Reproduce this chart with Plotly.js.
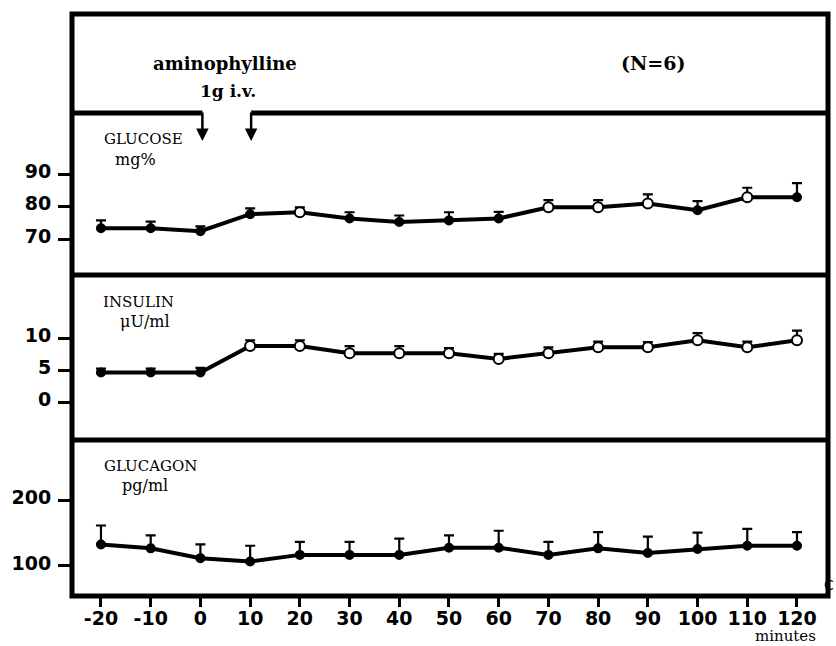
<!DOCTYPE html>
<html><head><meta charset="utf-8">
<script src="https://cdn.plot.ly/plotly-3.0.1.min.js"></script>
<style>html,body{margin:0;padding:0;background:#fff}</style>
</head><body><div id="chart" style="width:836px;height:646px"></div>
<script>
// ---- data ----
const minutes = [-20,-10,0,10,20,30,40,50,60,70,80,90,100,110,120];
const glucose = [73.4,73.4,72.5,77.7,78.3,76.4,75.3,75.8,76.4,79.8,79.8,81.0,78.9,82.9,82.9];
const glucoseSE = [2.4,2.0,1.5,1.8,1.5,1.9,2.0,2.5,2.0,2.2,2.2,2.8,2.8,2.9,4.3];
const glucoseOpen = [0,0,0,0,1,0,0,0,0,1,1,1,0,1,0];
const insulin = [4.7,4.7,4.7,8.8,8.8,7.7,7.7,7.7,6.8,7.7,8.6,8.6,9.7,8.6,9.7];
const insulinSE = [0.6,0.6,0.7,0.9,0.9,1.1,1.1,0.8,0.8,0.9,0.9,0.8,1.1,0.9,1.5];
const insulinOpen = [0,0,0,1,1,1,1,1,1,1,1,1,1,1,1];
const glucagon = [133,127,112,107,117,117,117,128,128,117,127,120,126,131,131];
const glucagonSE = [29,20,21,24,20,20,25,19,26,20,25,25,25,26,21];
const glucagonOpen = [0,0,0,0,0,0,0,0,0,0,0,0,0,0,0];
const glucoseTicks = [70,80,90];
const insulinTicks = [0,5,10];
const glucagonTicks = [100,200];
const infusionStart = 0, infusionEnd = 10;

// ---- drawing ----
const XR = [-25.83, 126.24];
function lineTrace(y, se, yaxis){
  return {
    type:'scatter', mode:'lines', x:minutes, y:y, yaxis:yaxis, xaxis:'x',
    line:{color:'#000', width:4},
    error_y:{type:'data', symmetric:false, array:se, arrayminus:se.map(()=>0),
             color:'#000', thickness:2.2, width:5},
    hoverinfo:'skip', cliponaxis:false
  };
}
function markerTrace(y, open, yaxis){
  return {
    type:'scatter', mode:'markers', x:minutes, y:y, yaxis:yaxis, xaxis:'x',
    marker:{symbol:'circle', size:open.map(o=>o?10:8), color:open.map(o=>o?'#ffffff':'#000000'),
            opacity:1, line:{color:'#000', width:2}},
    hoverinfo:'skip', cliponaxis:false
  };
}
const traces = [
  lineTrace(glucose, glucoseSE, 'y'),
  lineTrace(insulin, insulinSE, 'y2'),
  lineTrace(glucagon, glucagonSE, 'y3'),
  markerTrace(glucose, glucoseOpen, 'y'),
  markerTrace(insulin, insulinOpen, 'y2'),
  markerTrace(glucagon, glucagonOpen, 'y3')
];
const tickFont = {family:'DejaVu Sans', size:19, weight:'bold', color:'#000'};
function yax(domain, range, vals){
  return {domain:domain, range:range, tickvals:vals, ticktext:vals.map(String), anchor:'x',
    ticks:'outside', ticklen:13, tickwidth:3, tickcolor:'#000', showline:false,
    showgrid:false, zeroline:false, tickfont:tickFont, ticklabelshift:-3, ticklabelstandoff:3,
    fixedrange:true};
}
const serif = 'DejaVu Serif';
function ann(text, px, py, size, extra){
  return Object.assign({text:text, xref:'paper', yref:'paper', x:(px-72)/756, y:(596-py)/582,
    xanchor:'center', yanchor:'middle', showarrow:false,
    font:{family:serif, size:size, color:'#000'}}, extra||{});
}
const headerY = (596-113)/582;
const layout = {
  width:836, height:646, margin:{l:72, r:8, t:14, b:50, pad:0},
  paper_bgcolor:'#fff', plot_bgcolor:'#fff', showlegend:false,
  xaxis:{range:XR, anchor:'y3', tickvals:minutes, ticktext:minutes.map(String),
    ticks:'outside', ticklen:10, tickwidth:3, tickcolor:'#000', showline:false,
    showgrid:false, zeroline:false, tickfont:tickFont, ticklabelstandoff:-5, fixedrange:true},
  yaxis: yax([0.5515,0.8299],[59.07,108.7],glucoseTicks),
  yaxis2: yax([0.268,0.5515],[-5.79,19.83],insulinTicks),
  yaxis3: yax([0,0.268],[54,293],glucagonTicks),
  shapes:[
    {type:'rect', xref:'paper', yref:'paper', x0:0, x1:1, y0:0, y1:1, line:{color:'#000', width:5}},
    {type:'line', xref:'paper', yref:'paper', x0:0, x1:1, y0:0.268, y1:0.268, line:{color:'#000', width:5}},
    {type:'line', xref:'paper', yref:'paper', x0:0, x1:1, y0:0.5515, y1:0.5515, line:{color:'#000', width:5}},
    {type:'line', xref:'x', yref:'paper', x0:XR[0], x1:infusionStart+0.4, y0:headerY, y1:headerY, line:{color:'#000', width:5}},
    {type:'line', xref:'x', yref:'paper', x0:infusionEnd+0.2, x1:XR[1], y0:headerY, y1:headerY, line:{color:'#000', width:5}}
  ],
  annotations:[
    {text:'', xref:'x', yref:'paper', x:infusionStart+0.4, y:(596-141)/582, ax:0, ay:-30,
      showarrow:true, arrowhead:2, arrowsize:1, arrowwidth:2.5, arrowcolor:'#000'},
    {text:'', xref:'x', yref:'paper', x:infusionEnd+0.2, y:(596-141)/582, ax:0, ay:-30,
      showarrow:true, arrowhead:2, arrowsize:1, arrowwidth:2.5, arrowcolor:'#000'},
    ann('<b>aminophylline</b>', 225, 63, 18),
    ann('<b>1g i.v.</b>', 228, 91, 17),
    ann('<b>(N=6)</b>', 653, 63, 19),
    ann('GLUCOSE', 143, 139, 15),
    ann('mg%', 135, 159, 16),
    ann('INSULIN', 138, 302, 15),
    ann('μU/ml', 145, 321, 16),
    ann('GLUCAGON', 150, 466, 15),
    ann('pg/ml', 145, 485, 16),
    ann('minutes', 785, 646, 15, {yanchor:'bottom', yshift:-1}),
    ann('C', 836, 585, 14, {xanchor:'right', font:{family:'DejaVu Sans', size:14, color:'#000'}})
  ]
};
Plotly.newPlot('chart', traces, layout, {displayModeBar:false, staticPlot:true});
</script></body></html>
